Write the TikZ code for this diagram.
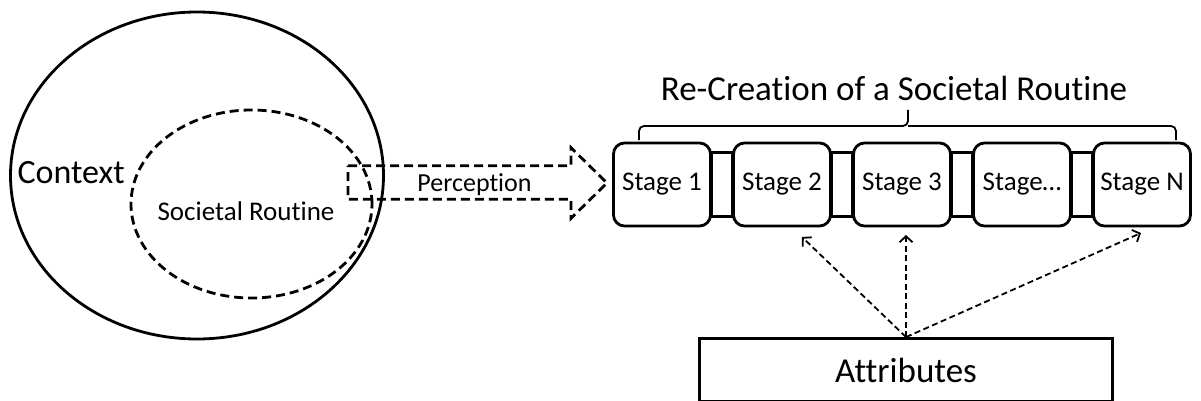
\documentclass[tikz,border=0pt]{standalone}
\usepackage{fontspec}
\setmainfont[Ligatures=NoCommon]{Carlito}
\usetikzlibrary{shapes.geometric,arrows.meta}
\tikzset{
  outer ring/.style={
    ellipse, draw=black, line width=2.8pt, inner sep=0pt,
    minimum width=373pt, minimum height=327pt
  },
  routine ring/.style={
    ellipse, draw=black, line width=2.8pt, dash pattern=on 9pt off 5pt,
    inner sep=0pt, minimum width=241pt, minimum height=188pt
  },
  stage box/.style={
    rectangle, rounded corners=11pt, draw=black, fill=white, line width=2.8pt,
    inner sep=0pt, minimum width=97pt, minimum height=83pt,
    font=\fontsize{27}{30}\selectfont
  },
  link bar/.style={draw=black, line width=2.8pt},
  perc arrow/.style={
    draw=black, line width=2.8pt, dash pattern=on 9pt off 5pt, line join=miter
  },
  brace line/.style={draw=black, line width=1.8pt, rounded corners=5pt},
  attr box/.style={
    rectangle, draw=black, line width=2.8pt, inner sep=0pt,
    minimum width=413pt, minimum height=63pt
  },
  attr arrow/.style={
    draw=black, line width=1.8pt, dash pattern=on 6pt off 3.5pt,
    -{Straight Barb[length=6pt,width=13pt]}
  }
}

\begin{document}
\begin{tikzpicture}[x=1pt, y=-1pt]
\useasboundingbox (0,0) rectangle (1201,401);

% 左：情境大圆 + 虚线常规椭圆
\node[outer ring]   (ctx) at (197,175.5) {};
\node[routine ring] (rtn) at (251.5,204) {};
\node[anchor=base west, font=\fontsize{34}{40}\selectfont] (ctxlabel) at (14,183) {Context};
\node[anchor=base, font=\fontsize{27}{30}\selectfont] (rtnlabel) at (246,220) {Societal Routine};

% 中：虚线块箭头
\draw[perc arrow] (348,165.7) -- (571,165.7) -- (571,147.7) -- (607,183)
  -- (571,218.3) -- (571,199.3) -- (348,199.3) -- cycle;
\node[anchor=base, font=\fontsize{26}{30}\selectfont] (perclabel) at (474.5,191) {Perception};

% 右上：阶段链
\node[stage box] (s1) at (662,184.5) {Stage 1};
\node[stage box] (s2) at (782,184.5) {Stage 2};
\node[stage box] (s3) at (902,184.5) {Stage 3};
\node[stage box] (s4) at (1022,184.5) {Stage\ldots};
\node[stage box] (s5) at (1142,184.5) {Stage N};

\draw[link bar] ([yshift=32pt]s1.east) rectangle ([yshift=-32pt]s2.west);
\draw[link bar] ([yshift=32pt]s2.east) rectangle ([yshift=-32pt]s3.west);
\draw[link bar] ([yshift=32pt]s3.east) rectangle ([yshift=-32pt]s4.west);
\draw[link bar] ([yshift=32pt]s4.east) rectangle ([yshift=-32pt]s5.west);

% 花括号 + 标题
\coordinate (brl) at (639,140);
\coordinate (brr) at (1176,140);
\coordinate (brm) at (908,126);
\draw[brace line] (brl) |- (brm) -- (908,110);
\draw[brace line] (brr) |- (brm);
\node[anchor=base, font=\fontsize{35}{40}\selectfont] (title) at (894,101) {Re-Creation of a Societal Routine};

% 右下：属性框 + 三条虚线箭头
\node[attr box, font=\fontsize{35}{40}\selectfont] (attr) at (906,370) {Attributes};
\coordinate (t2) at (802,237);
\coordinate (t3) at (906,235);
\coordinate (t5) at (1141,233);

\draw[attr arrow] (attr.north) -- (t2);
\draw[attr arrow] (attr.north) -- (t3);
\draw[attr arrow] (attr.north) -- (t5);

\end{tikzpicture}
\end{document}
